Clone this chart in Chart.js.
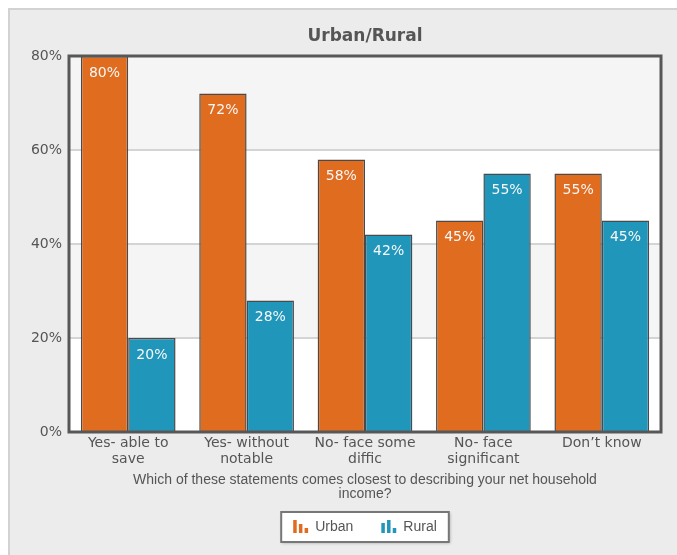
<!DOCTYPE html>
<html>
<head>
<meta charset="utf-8">
<title>Urban/Rural</title>
<script src="https://cdn.jsdelivr.net/npm/chart.js@4.4.1/dist/chart.umd.min.js"></script>
<style>
  html, body { margin: 0; padding: 0; background: #fff; }
  canvas { display: block; }
</style>
</head>
<body>
<canvas id="urban-rural" width="677" height="555"></canvas>
<script>
"use strict";

// Chart data
const categories = [
    ["Yes- able to", "save"],
    ["Yes- without", "notable"],
    ["No- face some", "diffic"],
    ["No- face", "significant"],
    "Don\u2019t know"
];
const seriesNames = ["Urban", "Rural"];
const urbanValues = [80, 72, 58, 45, 55];
const ruralValues = [20, 28, 42, 55, 45];
const yMax = 80;
const yStep = 20;

const chartTitle = "Urban/Rural";
const xTitle = ["Which of these statements comes closest to describing your net household", "income?"];

const ORANGE = "#e06c20";
const BLUE = "#2196bb";
const TEXT = "#555555";


// Grey panel, alternating bands and title
const backdrop = {
    id: "backdrop",
    beforeDraw(chart) {
        const ctx = chart.ctx;
        const area = chart.chartArea;
        const y = chart.scales.y;
        ctx.save();
        ctx.fillStyle = "#ffffff";
        ctx.fillRect(0, 0, chart.width, chart.height);
        ctx.fillStyle = "#ececec";
        ctx.fillRect(9, 9, chart.width, chart.height);
        ctx.strokeStyle = "#d2d2d2";
        ctx.lineWidth = 2;
        ctx.beginPath();
        ctx.moveTo(9, chart.height);
        ctx.lineTo(9, 9);
        ctx.lineTo(chart.width, 9);
        ctx.stroke();

        // bands between the ticks, grey on top
        const ticks = y.ticks.map(t => t.value).sort((a, b) => b - a);
        for (let i = 0; i < ticks.length - 1; i++) {
            const top = y.getPixelForValue(ticks[i]);
            const bot = y.getPixelForValue(ticks[i + 1]);
            ctx.fillStyle = i % 2 === 0 ? "#f5f5f5" : "#ffffff";
            ctx.fillRect(area.left, top, area.right - area.left, bot - top);
        }

        ctx.fillStyle = TEXT;
        ctx.font = "bold 17px 'DejaVu Sans'";
        ctx.textAlign = "center";
        ctx.textBaseline = "middle";
        ctx.fillText(chartTitle, (area.left + area.right) / 2, 37);
        ctx.restore();
    }
};

// Plot frame + value labels inside the bars
const frameAndLabels = {
    id: "frameAndLabels",
    afterDatasetsDraw(chart) {
        const ctx = chart.ctx;
        const area = chart.chartArea;
        ctx.save();
        ctx.font = "14px 'DejaVu Sans'";
        ctx.fillStyle = "#f8f8f8";
        ctx.textAlign = "center";
        ctx.textBaseline = "middle";
        chart.data.datasets.forEach((ds, i) => {
            chart.getDatasetMeta(i).data.forEach((bar, j) => {
                ctx.fillText(ds.data[j] + "%", bar.x, bar.y + 17);
            });
        });

        ctx.strokeStyle = "#575757";
        ctx.lineWidth = 3;
        ctx.strokeRect(area.left, area.top, area.right - area.left, area.bottom - area.top);
        ctx.restore();
    }
};

// Legend box with little bar-chart icons
const iconBars = [[13, 9, 5], [10, 13, 5]];
const legendBox = {
    id: "legendBox",
    afterDraw(chart) {
        const ctx = chart.ctx;
        const area = chart.chartArea;
        const datasets = chart.data.datasets;
        ctx.save();
        ctx.font = "14px 'Liberation Sans'";
        const iconW = 15, iconGap = 7, itemGap = 28, pad = 12;
        const widths = datasets.map(ds => iconW + iconGap + ctx.measureText(ds.label).width);
        const total = widths.reduce((a, b) => a + b, 0) + itemGap * (datasets.length - 1) + pad * 2;
        const boxX = (area.left + area.right) / 2 - total / 2;
        const boxY = 512, boxH = 30;

        ctx.shadowColor = "rgba(0,0,0,0.3)";
        ctx.shadowBlur = 3;
        ctx.shadowOffsetX = 1;
        ctx.shadowOffsetY = 1;
        ctx.fillStyle = "#ffffff";
        ctx.fillRect(boxX, boxY, total, boxH);
        ctx.shadowColor = "transparent";
        ctx.strokeStyle = "#777777";
        ctx.lineWidth = 2;
        ctx.strokeRect(boxX, boxY, total, boxH);

        let x = boxX + pad;
        const base = boxY + 21;
        datasets.forEach((ds, i) => {
            ctx.fillStyle = ds.backgroundColor;
            iconBars[i].forEach((h, k) => {
                ctx.fillRect(x + k * 5.7, base - h, 3.5, h);
            });
            ctx.fillStyle = TEXT;
            ctx.textBaseline = "middle";
            ctx.textAlign = "left";
            ctx.fillText(ds.label, x + iconW + iconGap, boxY + boxH / 2);
            x += widths[i] + itemGap;
        });
        ctx.restore();
    }
};


new Chart(document.getElementById("urban-rural"), {
    type: "bar",
    data: {
        labels: categories,
        datasets: [{
            label: seriesNames[0],
            data: urbanValues,
            backgroundColor: ORANGE,
            borderColor: "#4a4a4a",
            borderWidth: 1.5
        }, {
            label: seriesNames[1],
            data: ruralValues,
            backgroundColor: BLUE,
            borderColor: "#4a4a4a",
            borderWidth: 1.5
        }]
    },
    options: {
        responsive: false,
        animation: false,
        devicePixelRatio: 1,
        layout: {
            padding: { top: 56, right: 16, bottom: 54, left: 0 }
        },
        datasets: {
            bar: { categoryPercentage: 0.8, barPercentage: 1 }
        },
        plugins: {
            legend: { display: false },
            title: { display: false },
            tooltip: { enabled: false }
        },
        scales: {
            x: {
                afterFit(scale) { scale.height = 69; },
                grid: { display: false, drawTicks: false },
                border: { display: false },
                ticks: {
                    color: TEXT,
                    padding: 4,
                    maxRotation: 0,
                    autoSkip: false,
                    font: { family: "'DejaVu Sans'", size: 14, lineHeight: 1.1 }
                },
                title: {
                    display: true,
                    text: xTitle,
                    color: TEXT,
                    padding: { top: 4, bottom: 0 },
                    font: { family: "'Liberation Sans'", size: 14, lineHeight: 1.0 }
                }
            },
            y: {
                min: 0,
                max: yMax,
                afterFit(scale) { scale.width = 69; },
                grid: { color: "#d4d4d4", lineWidth: 2, drawTicks: false },
                border: { display: false },
                ticks: {
                    stepSize: yStep,
                    color: TEXT,
                    padding: 7,
                    font: { family: "'DejaVu Sans'", size: 14 },
                    callback: v => v + "%"
                }
            }
        }
    },
    plugins: [backdrop, frameAndLabels, legendBox]
});
</script>
</body>
</html>
